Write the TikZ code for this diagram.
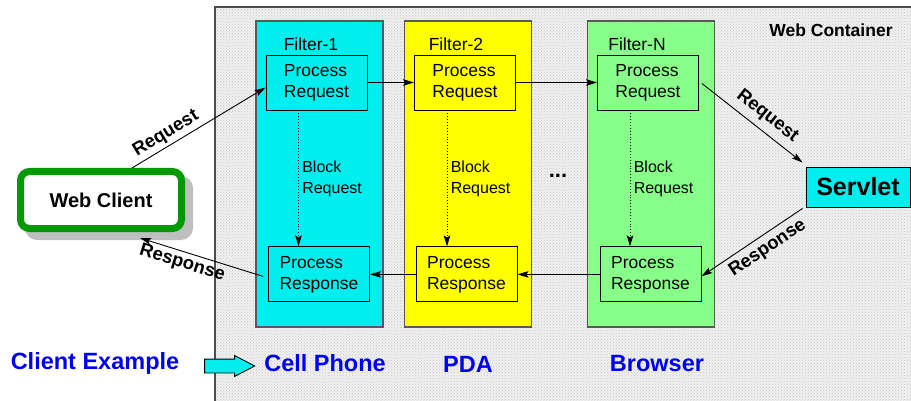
\documentclass[tikz,border=0pt]{standalone}
\usepackage{fontspec}
\setmainfont{Liberation Sans}
\usetikzlibrary{arrows.meta,positioning,shapes.arrows,patterns}

\definecolor{filtcyan}{RGB}{0,238,238}
\definecolor{filtyellow}{RGB}{255,255,0}
\definecolor{filtgreen}{RGB}{136,255,136}
\definecolor{clientgreen}{RGB}{0,153,0}
\definecolor{exblue}{RGB}{0,0,240}

\tikzset{
  filter/.style={draw=black!65, line width=1.3pt, minimum width=127pt, minimum height=306pt, inner sep=0pt},
  proc/.style={draw, align=left, minimum width=101pt, minimum height=55pt,
    font=\fontsize{17.5}{21}\selectfont},
  flabel/.style={font=\fontsize{17.5}{21}\selectfont},
  msg/.style={font=\bfseries\fontsize{18.5}{22}\selectfont, sloped, inner sep=3pt},
  example/.style={text=exblue, font=\bfseries\fontsize{23.5}{28}\selectfont},
}

\begin{document}
\begin{tikzpicture}[>={Stealth[length=11pt, width=6.5pt, inset=2pt]}, x=1pt, y=-1pt, line width=0.9pt]
  \useasboundingbox (0,0) rectangle (911,401);

  % the container
  \fill[black!6] (215,7) rectangle (911,401);
  \fill[pattern=crosshatch dots, pattern color=black!22] (215,7) rectangle (911,401);
  \draw[black!70, line width=1.8pt] (215,401) -- (215,7) -- (911,7);
  \node[font=\bfseries\fontsize{17.5}{21}\selectfont] (wcont) at (831,30) {Web Container};

  % filter chain
  \node[filter, fill=filtcyan] (col1) at (319.5,174) {};
  \node[filter, fill=filtyellow] (col2) at (468,174) {};
  \node[filter, fill=filtgreen] (coln) at (651,174) {};
  \node[flabel] (f1) at (311,44) {Filter-1};
  \node[flabel] (f2) at (456,44) {Filter-2};
  \node[flabel] (fn) at (637,44) {Filter-N};

  \node[proc] (req1) at (316.5,82.5) {Process\\Request};
  \node[proc] (req2) at (465,82.5) {Process\\Request};
  \node[proc] (reqn) at (648,82.5) {Process\\Request};
  \node[proc] (res1) [below=136pt of req1, xshift=2.5pt] {Process\\Response};
  \node[proc] (res2) [below=136pt of req2, xshift=1.5pt] {Process\\Response};
  \node[proc] (resn) [below=136pt of reqn, xshift=2.5pt] {Process\\Response};

  \foreach \a/\b in {req1/res1, req2/res2, reqn/resn}
    \draw[->, dotted] ([xshift=-18pt]\a.south) -- ([xshift=-18pt]\a.south |- \b.north)
      node[midway, right, align=left, font=\fontsize{16}{21}\selectfont] {Block\\Request};

  \path[->]
  (req1) edge (req2)
  (req2) edge (reqn)
  (resn) edge (res2)
  (res2) edge (res1);

  \node[font=\bfseries\fontsize{22}{26}\selectfont, inner sep=1pt] (more) at (558,176) {...};

  % the servlet
  \node[draw, fill=filtcyan, minimum width=104pt, minimum height=40pt,
    font=\bfseries\fontsize{25}{30}\selectfont] (servlet) at (858,187) {Servlet};

  % the client, with its shadow behind it
  \fill[black!25, rounded corners=12pt] (25,176) rectangle (193,240);
  \node[draw=clientgreen, line width=7pt, rounded corners=9pt, fill=white,
    minimum width=161pt, minimum height=57pt,
    font=\bfseries\fontsize{20}{24}\selectfont] (wc) at (101,200) {Web Client};

  \draw[->] ([xshift=31pt]wc.north) -- ([yshift=-5pt]req1.west)
    node[msg, pos=0.3, above] {Request};
  \draw[->] ([xshift=-5pt, yshift=-2pt]res1.west) -- ([xshift=39pt, yshift=-6pt]wc.south)
    node[msg, pos=0.63, below] {Response};
  \draw[->] ([xshift=3pt, yshift=-1pt]reqn.east) -- ([xshift=-3pt, yshift=4pt]servlet.north west)
    node[msg, pos=0.56, above, inner sep=6pt] {Request};
  \draw[->] ([xshift=-3pt, yshift=-1pt]servlet.south west) -- ([yshift=-2pt]resn.east)
    node[msg, pos=0.42, below, inner sep=5pt] {Response};

  % client examples
  \node[example] (ex) at (95,363) {Client Example};
  \node[single arrow, draw, fill=filtcyan, inner xsep=0pt, inner ysep=6.5pt, minimum height=50pt,
    minimum width=20pt, single arrow head extend=3.5pt, single arrow tip angle=55] (exarrow) at (223,366) {};
  \node[example] (cell) at (325,363) {Cell Phone};
  \node[example] (pda) at (468,364) {PDA};
  \node[example] (browser) at (657,364) {Browser};
\end{tikzpicture}
\end{document}
